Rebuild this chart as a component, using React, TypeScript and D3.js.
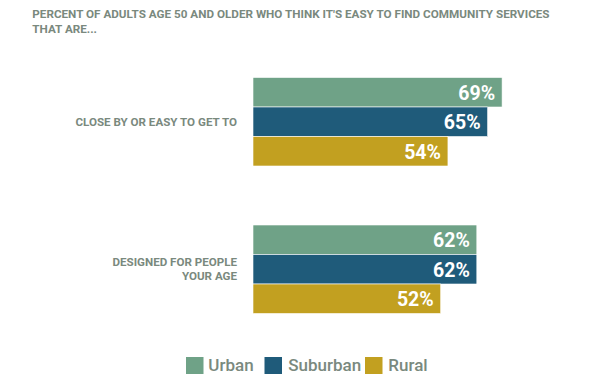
import React from 'react';
import * as d3 from 'd3';

const titleLines = [
  "PERCENT OF ADULTS AGE 50 AND OLDER WHO THINK IT'S EASY TO FIND COMMUNITY SERVICES",
  'THAT ARE...',
];
const categories = ['CLOSE BY OR EASY TO GET TO', 'DESIGNED FOR PEOPLE YOUR AGE'];
const categoryLines = [['CLOSE BY OR EASY TO GET TO'], ['DESIGNED FOR PEOPLE', 'YOUR AGE']];
const series = ['Urban', 'Suburban', 'Rural'];
const urban = [69, 62];
const suburban = [65, 62];
const rural = [54, 52];
const colors = ['#6fa287', '#1f5b7a', '#c2a020'];

const W = 612;
const H = 374;
const textColor = '#7a897e';
const font = 'Roboto, "Noto Sans", sans-serif';

const App = () => {
  const values = [urban, suburban, rural];

  const x = d3.scaleLinear().domain([0, 100]).range([253, 614]);
  const y = d3.scaleBand().domain(categories).range([77.5, 313.5]).paddingInner(0.4).paddingOuter(0);
  const ySub = d3.scaleBand().domain(series).range([0, y.bandwidth()]);

  const legendSquareX = [186, 264.5, 365];
  const legendTextX = [208.3, 288.3, 388.3];

  return (
    <svg width={W} height={H} style={{ position: 'absolute', left: 0, top: 0, background: '#fff' }} fontFamily={font}>
      {titleLines.map((t, i) => (
        <text key={t} x={32.3} y={17.5 + i * 15} fontSize={11.7} fontWeight={700} fill={textColor}>
          {t}
        </text>
      ))}

      {categories.map((c, ci) => {
        const lines = categoryLines[ci];
        const mid = y(c)! + y.bandwidth() / 2;
        return (
          <g key={c}>
            {lines.map((l, li) => (
              <text
                key={l}
                x={237}
                y={mid + 4 + (li - (lines.length - 1) / 2) * 14}
                textAnchor="end"
                fontSize={11.6}
                fontWeight={700}
                fill={textColor}
              >
                {l}
              </text>
            ))}
            {series.map((s, si) => {
              const v = values[si][ci];
              const top = y(c)! + ySub(s)!;
              return (
                <g key={s}>
                  <rect
                    x={x(0)}
                    y={top}
                    width={x(v) - x(0)}
                    height={ySub.bandwidth()}
                    fill={colors[si]}
                    stroke="#fff"
                    strokeWidth={0.6}
                  />
                  <text
                    x={x(v) - 7}
                    y={top + ySub.bandwidth() / 2 + 7.5}
                    textAnchor="end"
                    fontSize={19.5}
                    fontWeight={700}
                    fill="#fff"
                  >
                    {v}%
                  </text>
                </g>
              );
            })}
          </g>
        );
      })}

      {series.map((s, si) => (
        <g key={s}>
          <rect x={legendSquareX[si]} y={357} width={17.5} height={17} fill={colors[si]} />
          <text x={legendTextX[si]} y={370.5} fontSize={17} fontWeight={500} fill={textColor}>
            {s}
          </text>
        </g>
      ))}
    </svg>
  );
};

export default App;
